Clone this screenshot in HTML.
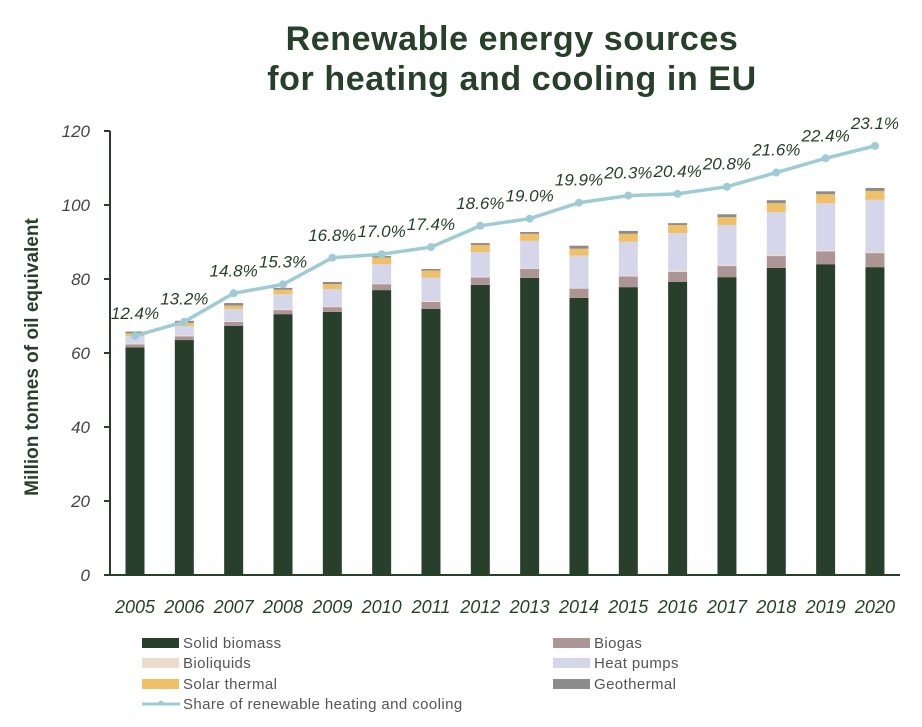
<!DOCTYPE html>
<html><head><meta charset="utf-8"><style>
body{margin:0;background:#fff;}
svg text{font-family:"Liberation Sans",sans-serif;}
</style></head><body>
<svg id="chart" width="922" height="722" viewBox="0 0 922 722" xmlns="http://www.w3.org/2000/svg">
<text x="512" y="50" text-anchor="middle" font-size="34" font-weight="bold" letter-spacing="0.6" fill="#27402a">Renewable energy sources</text>
<text x="512" y="90" text-anchor="middle" font-size="34" font-weight="bold" letter-spacing="0.6" fill="#27402a">for heating and cooling in EU</text>
<text transform="translate(38,357) rotate(-90)" text-anchor="middle" font-size="19" font-weight="bold" fill="#27402a">Million tonnes of oil equivalent</text>
<g id="axes"></g><g id="bars"></g><g id="line"></g><g id="legend"></g>
</svg>
<script>
const years=["2005","2006","2007","2008","2009","2010","2011","2012","2013","2014","2015","2016","2017","2018","2019","2020"];
const solidBiomass=[61.5,63.5,67.3,70.5,71.1,77.0,71.9,78.4,80.3,74.9,77.8,79.2,80.5,83.0,84.0,83.2];
const biogas=[0.8,1.0,1.1,1.1,1.3,1.6,1.9,2.0,2.4,2.5,2.9,2.7,3.0,3.2,3.5,3.8];
const bioliquids=[0.3,0.3,0.2,0.2,0.2,0.2,0.2,0.2,0.2,0.2,0.2,0.3,0.3,0.3,0.3,0.3];
const heatPumps=[2.0,2.5,3.3,4.1,4.7,5.2,6.4,6.7,7.4,8.7,9.2,10.2,10.8,11.6,12.7,14.1];
const solarThermal=[0.7,0.8,0.9,1.2,1.3,1.8,1.9,1.9,1.9,1.9,2.1,2.2,2.1,2.4,2.4,2.4];
const geothermal=[0.5,0.6,0.7,0.5,0.6,0.4,0.4,0.5,0.5,0.8,0.8,0.5,0.8,0.8,0.8,0.8];
const sharePct=[12.4,13.2,14.8,15.3,16.8,17.0,17.4,18.6,19.0,19.9,20.3,20.4,20.8,21.6,22.4,23.1];
const yTicks=[0,20,40,60,80,100,120];

const NS="http://www.w3.org/2000/svg";
const x0=110,x1=900,yb=575,yt=131;
const yS=v=>yb-(v/120)*(yb-yt);
const xS=i=>135+i*49.33;
const shareY=s=>yS(5.1+4.8*s);
function mk(t,a,p){const e=document.createElementNS(NS,t);for(const k in a)e.setAttribute(k,a[k]);(p||document.getElementById('chart')).appendChild(e);return e;}
const ax=document.getElementById('axes');
let e=mk('line',{x1:x0,y1:yt,x2:x0,y2:yb,stroke:'#27402a','stroke-width':2},ax);


e=mk('line',{x1:x0,y1:yb,x2:x1,y2:yb,stroke:'#27402a','stroke-width':2},ax);


yTicks.forEach(v=>{
 const t=mk('line',{x1:x0-6,y1:yS(v),x2:x0,y2:yS(v),stroke:'#27402a','stroke-width':2},ax);
 
 
 const l=mk('text',{x:x0-20,y:yS(v)+6,'text-anchor':'end','font-size':17,'font-style':'italic',fill:'#444'},ax);
 l.textContent=v;
 
 
});
const series=[[solidBiomass,'#283f2b','solid-biomass'],[biogas,'#ae9595','biogas'],[bioliquids,'#ecdccb','bioliquids'],[heatPumps,'#d6d6ea','heat-pumps'],[solarThermal,'#f0c068','solar-thermal'],[geothermal,'#8c8c8c','geothermal']];
const bg=document.getElementById('bars');
years.forEach((yr,i)=>{
 const cx=xS(i);
 let acc=0;
 series.forEach(([arr,col,nm])=>{
  const v=arr[i];
  const r=mk('rect',{x:cx-9.5,y:yS(acc+v),width:19,height:yS(acc)-yS(acc+v),fill:col},bg);
  
  
  acc+=v;
 });
 const l=mk('text',{x:cx,y:613,'text-anchor':'middle','font-size':18,'font-style':'italic',fill:'#27402a'},bg);
 l.textContent=yr;
 
 
});
const lg=document.getElementById('line');
const pts=sharePct.map((s,i)=>xS(i)+','+shareY(s)).join(' ');
e=mk('polyline',{points:pts,fill:'none',stroke:'#9ecbd6','stroke-width':3.5},lg);


sharePct.forEach((s,i)=>{
 const cx=xS(i);
 const c=mk('circle',{cx:cx,cy:shareY(s),r:4,fill:'#9ecbd6'},lg);
 
 
 const t=mk('text',{x:cx,y:shareY(s)-17,'text-anchor':'middle','font-size':17,'font-style':'italic',fill:'#27402a'},lg);
 t.textContent=s.toFixed(1)+'%';
 
 
});
const leg=document.getElementById('legend');
const items=[['Solid biomass','#283f2b',142,643],['Biogas','#ae9595',553,643],['Bioliquids','#ecdccb',142,663],['Heat pumps','#d6d6ea',553,663],['Solar thermal','#f0c068',142,684],['Geothermal','#8c8c8c',553,684]];
items.forEach(([n,c,x,y])=>{
 const r=mk('rect',{x:x,y:y-5,width:37,height:10,fill:c},leg);
 
 
 const t=mk('text',{x:x+41,y:y+5,'font-size':15,'letter-spacing':0.4,fill:'#555'},leg);
 t.textContent=n;
 
 
});
e=mk('line',{x1:142,y1:704,x2:180,y2:704,stroke:'#9ecbd6','stroke-width':3},leg);


e=mk('circle',{cx:161,cy:703,r:2.5,fill:'#9ecbd6'},leg);


e=mk('text',{x:183,y:709,'font-size':15,'letter-spacing':0.4,fill:'#555'},leg);
e.textContent='Share of renewable heating and cooling';


</script>
</body></html>
